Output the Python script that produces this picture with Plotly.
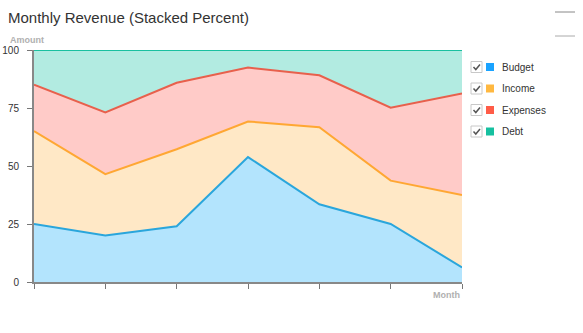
import plotly.graph_objects as go

months = ["Jan", "Feb", "Mar", "Apr", "May", "Jun", "Jul"]
series_names = ["Budget", "Income", "Expenses", "Debt"]
budget = [25, 20, 24, 54, 33.5, 25, 6.3]
income = [40, 26.5, 33.2, 15.4, 33.2, 18.7, 31.2]
expenses = [20, 26.6, 28.7, 23.3, 22.4, 31.4, 43.8]
debt = [15, 26.9, 14.1, 7.6, 10.9, 24.9, 18.7]
y_ticks = [0, 25, 50, 75, 100]

line_colors = ["#2aa6dc", "#ffa733", "#e8604c", "#1ac0a0"]
fill_colors = ["#b3e4fd", "#ffe8c6", "#ffcbc8", "#b2ebe1"]
key_colors = ["#1aa3ff", "#ffb840", "#ff5c47", "#16c0a0"]

FONT = "Liberation Sans, Arial, sans-serif"

xs = list(range(len(months)))
fig = go.Figure()
for name, vals, lc, fc in zip(series_names, [budget, income, expenses, debt], line_colors, fill_colors):
    fig.add_trace(go.Scatter(
        x=xs, y=vals, name=name, mode="lines", stackgroup="one", groupnorm="percent",
        line=dict(color=lc, width=2), fillcolor=fc, showlegend=False,
        hoverinfo="skip"))

W, H = 583, 333
L, R, T, B = 34, 121, 50, 51
pw = W - L - R
ph = H - T - B

def px_x(p):
    return (p - L) / pw

def px_y(p):
    return (H - B - p) / ph

shapes = []
annotations = []
row_centers = [67, 88.5, 110, 131.5]
for name, kc, cy in zip(series_names, key_colors, row_centers):
    shapes.append(dict(type="rect", xref="paper", yref="paper",
                       x0=px_x(471), x1=px_x(482), y0=px_y(cy + 5.5), y1=px_y(cy - 5.5),
                       line=dict(color="#c8c8c8", width=1), fillcolor="white"))
    shapes.append(dict(type="path", xref="paper", yref="paper",
                       path="M {} {} L {} {} L {} {}".format(
                           px_x(473.5), px_y(cy), px_x(475.8), px_y(cy + 2.5),
                           px_x(480), px_y(cy - 2.5)),
                       line=dict(color="#555555", width=1.5)))
    shapes.append(dict(type="rect", xref="paper", yref="paper",
                       x0=px_x(486), x1=px_x(494), y0=px_y(cy + 4), y1=px_y(cy - 4),
                       line=dict(width=0), fillcolor=kc))
    annotations.append(dict(text=name, xref="paper", yref="paper",
                            x=px_x(500), y=px_y(cy), xanchor="left", yanchor="middle",
                            showarrow=False, font=dict(size=10, color="#333333", family=FONT)))

# top-right menu lines
for yy, col in [(12, "#888888"), (36, "#aaaaaa")]:
    shapes.append(dict(type="line", xref="paper", yref="paper",
                       x0=px_x(555), x1=px_x(575), y0=px_y(yy), y1=px_y(yy),
                       line=dict(color=col, width=1)))

annotations.append(dict(text="<b>Amount</b>", xref="paper", yref="paper",
                        x=px_x(8), y=px_y(40), xanchor="left", yanchor="middle",
                        showarrow=False, font=dict(size=9, color="#b0b0b0", family=FONT)))
annotations.append(dict(text="<b>Month</b>", xref="paper", yref="paper",
                        x=px_x(462), y=px_y(295), xanchor="right", yanchor="middle",
                        showarrow=False, font=dict(size=9, color="#b0b0b0", family=FONT)))

fig.update_layout(
    width=W, height=H,
    margin=dict(l=L, r=R, t=T, b=B, pad=0, autoexpand=False),
    paper_bgcolor="white", plot_bgcolor="white",
    title=dict(text="Monthly Revenue (Stacked Percent)", x=8 / W, xanchor="left",
               y=1 - 18 / H, yanchor="middle",
               font=dict(size=15, color="#333333", family=FONT)),
    xaxis=dict(range=[0, len(months) - 1], tickvals=xs, ticktext=[""] * len(months),
               showticklabels=False, ticks="outside", ticklen=5, tickcolor="#777777",
               showline=True, linecolor="#888888", linewidth=2, automargin=False,
               showgrid=True, gridcolor="rgba(200,200,200,0.35)", zeroline=False,
               fixedrange=True),
    yaxis=dict(range=[0, 100], tickvals=y_ticks, ticks="outside", ticklen=5,
               tickcolor="#777777", showline=True, linecolor="#888888", linewidth=2,
               showgrid=True, gridcolor="rgba(200,200,200,0.35)", zeroline=False,
               ticklabelstandoff=6, automargin=False,
               tickfont=dict(size=10, color="#333333", family=FONT),
               fixedrange=True),
    shapes=shapes, annotations=annotations, showlegend=False,
)

fig.write_html("out.html", config={"displayModeBar": False})
